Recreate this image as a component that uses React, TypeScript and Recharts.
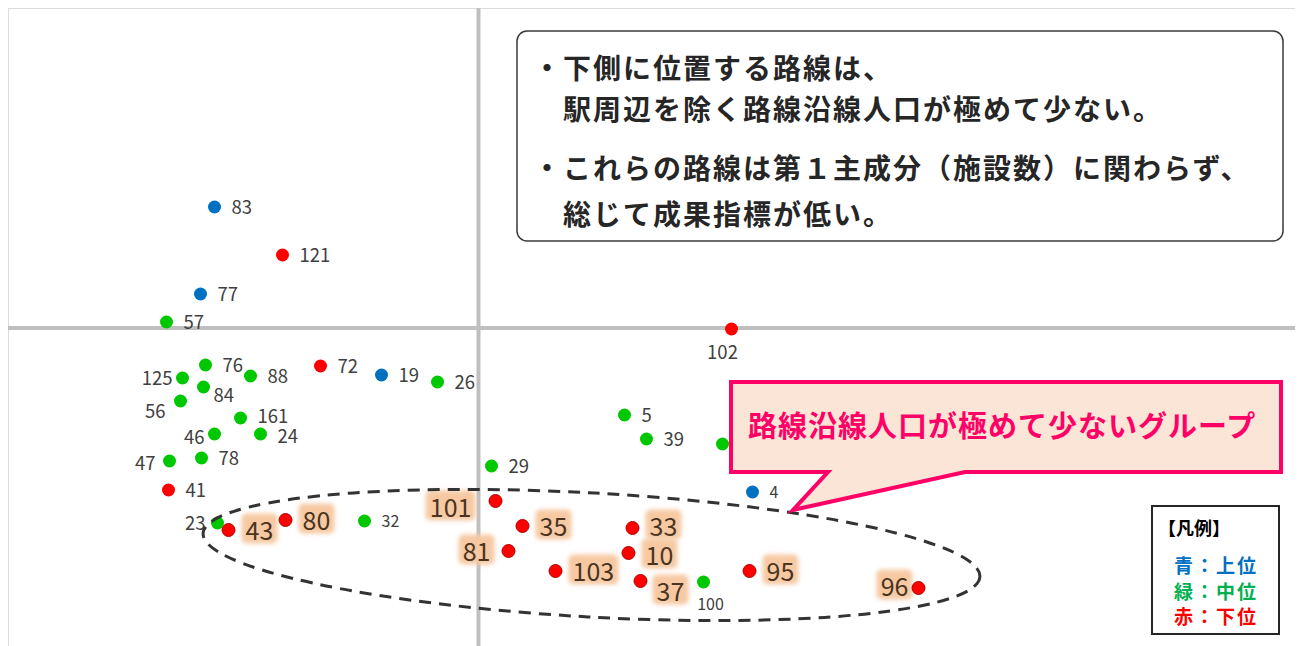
import React from 'react';
import { ScatterChart, Scatter, XAxis, YAxis, ReferenceLine } from 'recharts';

// 主成分得点 (x: 第1主成分, y: 第2主成分)
const blueRoutes = ['83', '77', '19', '4'];
const blueX = [-2.64, -2.78, -0.97, 2.74];
const blueY = [1.21, 0.34, -0.47, -1.64];

const greenRoutes = ['57', '76', '88', '125', '84', '56', '161', '46', '24', '47', '78', '26', '29', '32', '23', '5', '39', '', '100'];
const greenX = [-3.12, -2.73, -2.28, -2.96, -2.75, -2.98, -2.38, -2.64, -2.18, -3.09, -2.77, -0.41, 0.13, -1.14, -2.61, 1.46, 1.68, 2.44, 2.25];
const greenY = [0.06, -0.37, -0.48, -0.5, -0.59, -0.73, -0.9, -1.06, -1.06, -1.33, -1.3, -0.54, -1.38, -1.93, -1.95, -0.87, -1.11, -1.16, -2.54];

const redRoutes = ['121', '72', '102', '41', '43', '80', '101', '35', '81', '103', '33', '10', '37', '95', '96'];
const redX = [-1.96, -1.58, 2.53, -3.1, -2.5, -1.93, 0.17, 0.44, 0.3, 0.77, 1.54, 1.5, 1.62, 2.71, 4.4];
const redY = [0.73, -0.38, -0.01, -1.62, -2.02, -1.92, -1.73, -1.98, -2.23, -2.43, -2.0, -2.25, -2.53, -2.43, -2.6];

// routes inside the low-population group (label highlighted)
const highlighted = ['43', '80', '101', '35', '81', '103', '33', '10', '37', '95', '96'];
const smallLabels = ['32', '4', '100'];

// label placement, default is to the right of the dot
const labelPlace: Record<string, { dx: number; dy: number; anchor: 'start' | 'end' | 'middle' }> = {
  '125': { dx: -10, dy: 0, anchor: 'end' },
  '56': { dx: -15, dy: 10, anchor: 'end' },
  '84': { dx: 10, dy: 8, anchor: 'start' },
  '161': { dx: 17, dy: -2, anchor: 'start' },
  '24': { dx: 17, dy: 2, anchor: 'start' },
  '46': { dx: -10, dy: 3, anchor: 'end' },
  '47': { dx: -14, dy: 2, anchor: 'end' },
  '23': { dx: -12, dy: 0, anchor: 'end' },
  '102': { dx: -9, dy: 23, anchor: 'middle' },
  '100': { dx: 7, dy: 22, anchor: 'middle' },
  '101': { dx: -24, dy: 6, anchor: 'end' },
  '81': { dx: -18, dy: 0, anchor: 'end' },
  '33': { dx: 17, dy: -2, anchor: 'start' },
  '10': { dx: 17, dy: 2, anchor: 'start' },
  '96': { dx: -10, dy: -2, anchor: 'end' },
  '37': { dx: 16, dy: 10, anchor: 'start' },
};

const toPoints = (ids: string[], xs: number[], ys: number[]) =>
  ids.map((id, i) => ({ id, x: xs[i], y: ys[i] }));

const blueData = toPoints(blueRoutes, blueX, blueY);
const greenData = toPoints(greenRoutes, greenX, greenY);
const redData = toPoints(redRoutes, redX, redY);

const FONT = '"Noto Sans CJK JP", "Noto Sans", sans-serif';

const makeShape = (color: string) => (props: any) => {
  const { cx, cy, payload } = props;
  const id: string = payload.id;
  const hl = highlighted.includes(id);
  const small = smallLabels.includes(id);
  const place = labelPlace[id] || { dx: 17, dy: 0, anchor: 'start' };
  const fs = hl ? 25 : small ? 16 : 18.5;
  const tx = cx + place.dx;
  const ty = cy + place.dy - 1.5;
  const w = id.length * fs * 0.56;
  const left = place.anchor === 'end' ? tx - w : place.anchor === 'middle' ? tx - w / 2 : tx;
  return (
    <g>
      {hl && (
        <rect x={left - 4} y={ty - 15} width={w + 8} height={30} rx={5} fill="#f6c9a3" filter="url(#glow)" />
      )}
      <circle cx={cx} cy={cy} r={6.5} fill={color} stroke={hl ? '#b00000' : 'none'} strokeWidth={hl ? 1 : 0} />
      {id && (
        <text
          x={tx}
          y={ty}
          textAnchor={place.anchor}
          dominantBaseline="central"
          fontSize={fs}
          fontFamily={FONT}
          fill={hl ? '#4a3420' : '#404040'}
        >
          {id}
        </text>
      )}
    </g>
  );
};

export default function App() {
  return (
    <div style={{ position: 'relative', width: 1295, height: 638, background: '#fff' }}>
      <div
        style={{
          position: 'absolute',
          left: -1,
          top: -1,
          right: 0,
          bottom: 0,
          borderTop: '2px solid #dcdcdc',
          borderLeft: '2px solid #dcdcdc',
        }}
      />
      <ScatterChart width={1295} height={638} margin={{ top: 0, right: 0, bottom: 0, left: 0 }}>
        <defs>
          <filter id="glow" x="-30%" y="-30%" width="160%" height="160%">
            <feGaussianBlur stdDeviation="2" />
          </filter>
        </defs>
        <XAxis type="number" dataKey="x" domain={[-4.705, 8.245]} hide allowDataOverflow />
        <YAxis type="number" dataKey="y" domain={[-3.18, 3.2]} hide allowDataOverflow />
        <ReferenceLine x={0} stroke="#bfbfbf" strokeWidth={4} />
        <ReferenceLine y={0} stroke="#bfbfbf" strokeWidth={4} />
        <Scatter data={greenData} fill="#00c800" shape={makeShape('#00c800')} isAnimationActive={false} />
        <Scatter data={blueData} fill="#0070c0" shape={makeShape('#0070c0')} isAnimationActive={false} />
        <Scatter data={redData} fill="#ff0000" shape={makeShape('#ff0000')} isAnimationActive={false} />
      </ScatterChart>
      <svg
        width={1295}
        height={638}
        style={{ position: 'absolute', left: 0, top: 0, pointerEvents: 'none' }}
        fontFamily={FONT}
      >
        {/* dashed ellipse around the low-population group */}
        <ellipse
          cx={583.5}
          cy={547}
          rx={389}
          ry={62}
          transform="rotate(3.2 583.5 547)"
          fill="none"
          stroke="#333"
          strokeWidth={3}
          strokeDasharray="12 8"
        />
        {/* text box */}
        <rect x={509} y={23} width={766} height={210} rx={10} fill="#fff" stroke="#3a3a3a" strokeWidth={1.5} />
        <g fontSize={28} fontWeight="bold" fill="#262626" letterSpacing={2}>
          <text x={525} y={59} dominantBaseline="central">・下側に位置する路線は、</text>
          <text x={555} y={100} dominantBaseline="central">駅周辺を除く路線沿線人口が極めて少ない。</text>
          <text x={525} y={159} dominantBaseline="central">・これらの路線は第１主成分（施設数）に関わらず、</text>
          <text x={555} y={205} dominantBaseline="central">総じて成果指標が低い。</text>
        </g>
        {/* callout */}
        <path
          d="M723,374 H1273 V464 H957 L785,502 L820,464 H723 Z"
          fill="#fbe5d6"
          stroke="#ff0066"
          strokeWidth={4}
          strokeLinejoin="miter"
        />
        <text x={740} y={416} dominantBaseline="central" fontSize={29} fontWeight="bold" fill="#ff0066" letterSpacing={1}>
          路線沿線人口が極めて少ないグループ
        </text>
        {/* legend */}
        <rect x={1144} y={498} width={127} height={128} fill="#fff" stroke="#262626" strokeWidth={2} />
        <text x={1150} y={519} dominantBaseline="central" fontSize={18} fontWeight="bold" fill="#000">
          【凡例】
        </text>
        <g fontSize={19} fontWeight="bold" letterSpacing={2}>
          <text x={1166} y={556} dominantBaseline="central" fill="#0070c0">青：上位</text>
          <text x={1166} y={582} dominantBaseline="central" fill="#00b050">緑：中位</text>
          <text x={1166} y={607} dominantBaseline="central" fill="#ff0000">赤：下位</text>
        </g>
      </svg>
    </div>
  );
}
